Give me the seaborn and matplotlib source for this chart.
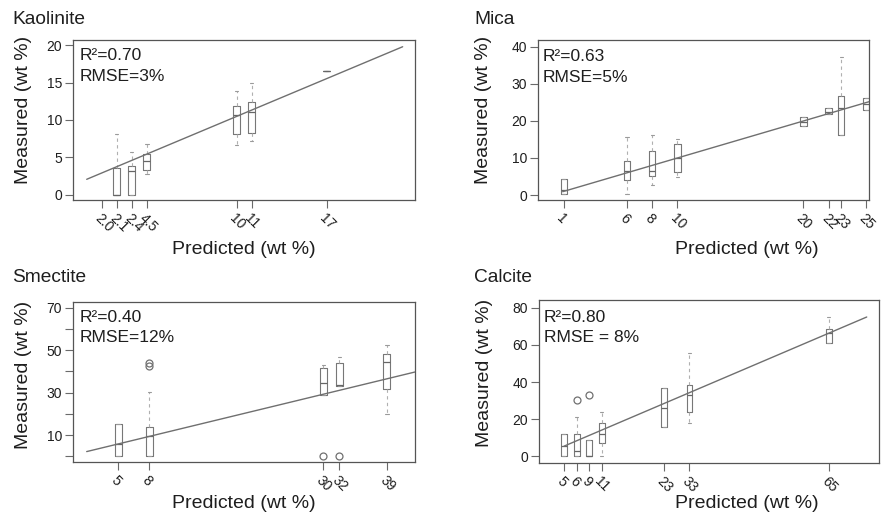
import numpy as np
import pandas as pd
import matplotlib
matplotlib.use("Agg")
import matplotlib.pyplot as plt
import seaborn as sns

# ---------------- data ----------------
# Kaolinite
kao_tick_pos = [2.93, 3.77, 4.61, 5.45, 10.48, 11.32, 15.52]
kao_tick_lab = ["2.0", "2.1", "2.4", "4.5", "10", "11", "17"]
kao_pos = [3.77, 4.61, 5.45, 10.48, 11.32, 15.52]
kao_lo = [0, 0, 2.75, 6.67, 7.2, 16.6]
kao_q1 = [0, 0, 3.3, 8.1, 8.2, 16.6]
kao_med = [0, 3.2, 4.53, 10.67, 11.1, 16.6]
kao_q3 = [3.56, 3.87, 5.47, 11.9, 12.35, 16.6]
kao_hi = [8.1, 5.7, 6.75, 13.9, 15.0, 16.6]
kao_out = [[], [], [], [], [], []]
kao_line = [2.09, 19.77]

# Mica
mic_tick_pos = [1, 6, 8, 10, 20, 22, 23, 25]
mic_tick_lab = ["1", "6", "8", "10", "20", "22", "23", "25"]
mic_pos = [1, 6, 8, 10, 20, 22, 23, 25]
mic_lo = [0.35, 0.2, 2.7, 4.9, 18.7, 21.8, 16.2, 23.1]
mic_q1 = [0.35, 4.0, 5.1, 6.3, 18.7, 21.8, 16.2, 23.1]
mic_med = [1.3, 6.5, 6.5, 10.05, 19.8, 22.5, 23.5, 24.7]
mic_q3 = [4.3, 9.2, 11.9, 13.8, 21.1, 23.4, 26.8, 26.2]
mic_hi = [4.3, 15.7, 16.2, 15.1, 21.1, 23.4, 37.3, 26.2]
mic_out = [[], [], [], [], [], [], [], []]
mic_line = [0.9, 25.2]

# Smectite
sme_tick_pos = [5.8, 9.35, 29.25, 31.05, 36.5]
sme_tick_lab = ["5", "8", "30", "32", "39"]
sme_pos = [5.8, 9.35, 29.25, 31.05, 36.5]
sme_lo = [0, 0, 28.9, 33.3, 19.9]
sme_q1 = [0, 0, 28.9, 33.3, 31.8]
sme_med = [5.9, 9.5, 34.4, 33.6, 44.4]
sme_q3 = [15.2, 13.9, 41.7, 44.1, 48.3]
sme_hi = [15.2, 30.4, 43.0, 46.6, 52.3]
sme_out = [[], [42.7, 44.0], [0], [0], []]
sme_line = [2.2, 39.7]

# Calcite
cal_tick_pos = [5.43, 8.4, 11.2, 14.2, 28.5, 34.3, 66.3]
cal_tick_lab = ["5", "6", "9", "11", "23", "33", "65"]
cal_pos = [5.43, 8.4, 11.2, 14.2, 28.5, 34.3, 66.3]
cal_lo = [0, 0, 0, 0, 15.9, 18.1, 61]
cal_q1 = [0, 0, 0, 7.3, 15.9, 24, 61]
cal_med = [5.5, 2.9, 0, 11.8, 26.2, 33, 66.4]
cal_q3 = [11.8, 11.8, 9, 17.8, 36.9, 38.4, 68.7]
cal_hi = [11.8, 21.3, 9, 24, 36.9, 55.5, 75]
cal_out = [[], [30.5], [33], [], [], [], []]
cal_line = [5.5, 75.0]

titles = ["Kaolinite", "Mica", "Smectite", "Calcite"]
r2_text = ["R\u00b2=0.70", "R\u00b2=0.63", "R\u00b2=0.40", "R\u00b2=0.80"]
rmse_text = ["RMSE=3%", "RMSE=5%", "RMSE=12%", "RMSE = 8%"]


def build_frame(pos, lo, q1, med, q3, hi, out):
    """Build 13-sample groups whose quartiles / whiskers / fliers reproduce the summary."""
    rows = []
    for p, a, b, c, d, e, o in zip(pos, lo, q1, med, q3, hi, out):
        low_o = sorted([v for v in o if v < b])
        high_o = sorted([v for v in o if v > d])
        below = low_o + [a] * (3 - len(low_o))
        above = [e] * (3 - len(high_o)) + high_o
        vals = below + [b, b, b, c, d, d, d] + above
        rows += [(p, v) for v in vals]
    return pd.DataFrame(rows, columns=["pos", "val"])


panels = [
    dict(df=build_frame(kao_pos, kao_lo, kao_q1, kao_med, kao_q3, kao_hi, kao_out),
         ticks=kao_tick_pos, labels=kao_tick_lab, line=kao_line,
         xlim=(1.34, 20.46), ylim=(-0.67, 20.67), yticks=[0, 5, 10, 15, 20],
         ylabels=["0", "5", "10", "15", "20"], width=0.47,
         rect=[0.0831, 0.6109, 0.3874, 0.3113],
         xlab=(0.5, -0.3125), ylab=(-0.147, 0.5625),
         txt=(0.018, 0.906, 0.769), title=(12, 19)),
    dict(df=build_frame(mic_pos, mic_lo, mic_q1, mic_med, mic_q3, mic_hi, mic_out),
         ticks=mic_tick_pos, labels=mic_tick_lab, line=mic_line,
         xlim=(-1.02, 25.23), ylim=(-1.43, 41.8), yticks=[0, 10, 20, 30, 40],
         ylabels=["0", "10", "20", "30", "40"], width=0.5,
         rect=[0.6105, 0.6103, 0.3751, 0.3113],
         xlab=(0.629, -0.31), ylab=(-0.165, 0.5625),
         txt=(0.014, 0.90, 0.77), title=(474, 19)),
    dict(df=build_frame(sme_pos, sme_lo, sme_q1, sme_med, sme_q3, sme_hi, sme_out),
         ticks=sme_tick_pos, labels=sme_tick_lab, line=sme_line,
         xlim=(0.67, 39.7), ylim=(-2.7, 72.7), yticks=[0, 10, 20, 30, 40, 50, 60, 70],
         ylabels=["", "10", "", "30", "", "50", "", "70"], width=0.44,
         rect=[0.0831, 0.1012, 0.3874, 0.3113],
         xlab=(0.5, -0.26), ylab=(-0.147, 0.546),
         txt=(0.018, 0.906, 0.775), title=(12, 278)),
    dict(df=build_frame(cal_pos, cal_lo, cal_q1, cal_med, cal_q3, cal_hi, cal_out),
         ticks=cal_tick_pos, labels=cal_tick_lab, line=cal_line,
         xlim=(-0.17, 77.9), ylim=(-3.4, 84.0), yticks=[0, 20, 40, 60, 80],
         ylabels=["0", "20", "40", "60", "80"], width=0.47,
         rect=[0.6115, 0.0998, 0.3855, 0.316],
         xlab=(0.611, -0.252), ylab=(-0.16, 0.552),
         txt=(0.014, 0.897, 0.768), title=(474, 278)),
]

# ---------------- style ----------------
sns.set_theme(style="white")
plt.rcParams["font.family"] = ["Liberation Sans", "DejaVu Sans"]

EDGE = "#6a6a6a"
TXT = "#1e1e1e"

W, H = 882, 514
fig = plt.figure(figsize=(W / 100, H / 100), dpi=100)

for i, p in enumerate(panels):
    ax = fig.add_axes(p["rect"])
    sns.boxplot(
        data=p["df"], x="pos", y="val", native_scale=True, orient="x",
        fill=False, color=EDGE, width=p["width"], linewidth=0.8, ax=ax,
        whis=1.5,
        boxprops=dict(color="#777777", linewidth=0.8),
        medianprops=dict(color="#666666", linewidth=0.9),
        whiskerprops=dict(color="#b0b0b0", linestyle=(0, (3, 3)), linewidth=0.8),
        capprops=dict(color="#9a9a9a", linewidth=0.8),
        flierprops=dict(marker="o", markerfacecolor="none", markeredgecolor="#707070",
                        markersize=5, markeredgewidth=0.9),
    )
    sns.lineplot(x=p["line"], y=p["line"], ax=ax, color="#6f6f6f", linewidth=1.0,
                 zorder=5)
    ax.set_xlim(*p["xlim"])
    ax.set_ylim(*p["ylim"])
    ax.set_xticks(p["ticks"])
    ax.set_xticklabels(p["labels"], rotation=-45, ha="left", va="top",
                       rotation_mode="anchor", fontsize=10, color=TXT)
    ax.set_yticks(p["yticks"])
    ax.set_yticklabels(p["ylabels"], fontsize=10, color=TXT)
    ax.tick_params(axis="both", direction="out", length=6, width=0.8, colors=EDGE,
                   labelcolor=TXT, pad=2, bottom=True, left=True)
    for s in ax.spines.values():
        s.set_color("#555555")
        s.set_linewidth(0.9)
        s.set_visible(True)
    ax.grid(False)
    ax.set_xlabel("Predicted (wt %)", fontsize=14, color=TXT)
    ax.set_ylabel("Measured (wt %)", fontsize=14, color=TXT)
    ax.xaxis.set_label_coords(*p["xlab"])
    ax.xaxis.label.set_va("center")
    ax.yaxis.set_label_coords(*p["ylab"])
    ax.yaxis.label.set_va("center")
    tx, ty1, ty2 = p["txt"]
    ax.text(tx, ty1, r2_text[i], transform=ax.transAxes, fontsize=12.5, color=TXT,
            ha="left", va="center")
    ax.text(tx, ty2, rmse_text[i], transform=ax.transAxes, fontsize=12.5, color=TXT,
            ha="left", va="center")
    fx, fy = p["title"]
    fig.text(fx / W, 1 - fy / H, titles[i], fontsize=13.8, color=TXT,
             ha="left", va="center")

fig.savefig("out.png", dpi=100, facecolor="white")
